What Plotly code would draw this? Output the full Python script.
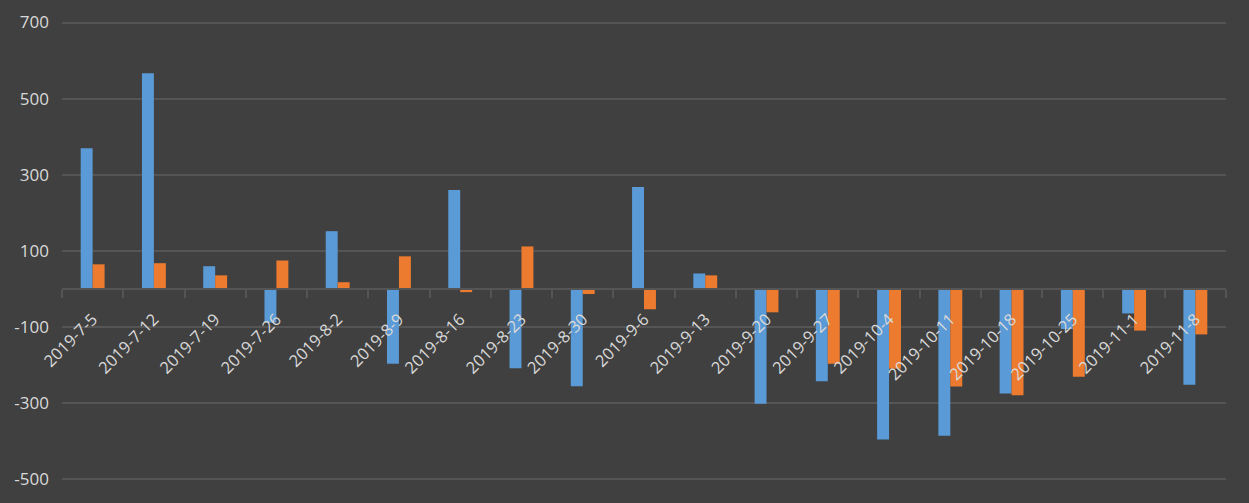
import plotly.graph_objects as go

dates = ["2019-7-5", "2019-7-12", "2019-7-19", "2019-7-26", "2019-8-2", "2019-8-9",
         "2019-8-16", "2019-8-23", "2019-8-30", "2019-9-6", "2019-9-13", "2019-9-20",
         "2019-9-27", "2019-10-4", "2019-10-11", "2019-10-18", "2019-10-25", "2019-11-1",
         "2019-11-8"]
series_blue = [370, 567, 60, -88, 152, -196, 260, -208, -255, 268, 41, -301,
               -242, -395, -385, -274, -105, -64, -251]
series_orange = [65, 68, 36, 75, 18, 86, -8, 112, -13, -53, 36, -61,
                 -196, -209, -256, -279, -230, -109, -119]
y_ticks = [-500, -300, -100, 100, 300, 500, 700]

Y_MIN, Y_MAX = -504, 704

fig = go.Figure()
fig.add_trace(go.Bar(x=dates, y=series_blue, name="A",
                     marker=dict(color="#5A9AD6", line=dict(width=0))))
fig.add_trace(go.Bar(x=dates, y=series_orange, name="B",
                     marker=dict(color="#ED7B2F", line=dict(width=0))))

grid = "#555555"
fig.update_layout(
    width=1249, height=503,
    paper_bgcolor="#404040", plot_bgcolor="#404040",
    margin=dict(l=62, r=23, t=21, b=22),
    barmode="group", bargap=0.61, bargroupgap=0,
    showlegend=False,
    font=dict(family="Open Sans", size=17, color="#D9D9D9"),
    xaxis=dict(
        type="category", automargin=False,
        anchor="free", position=(0 - Y_MIN) / (Y_MAX - Y_MIN),
        showline=True, linecolor=grid, linewidth=2,
        ticks="outside", tickson="boundaries", ticklen=8, tickwidth=2, tickcolor=grid,
        tickangle=-45, showgrid=False, ticklabelstandoff=13,
        tickfont=dict(family="Open Sans", size=16.5, color="#D9D9D9"),
    ),
    yaxis=dict(
        range=[Y_MIN, Y_MAX], tickvals=y_ticks, ticktext=[str(v) for v in y_ticks],
        automargin=False,
        showgrid=True, gridcolor=grid, gridwidth=2,
        zeroline=False, showline=False, ticks="",
        ticklabelstandoff=12,
        tickfont=dict(family="Open Sans", size=17, color="#D9D9D9"),
    ),
)

fig.write_html("out.html")
